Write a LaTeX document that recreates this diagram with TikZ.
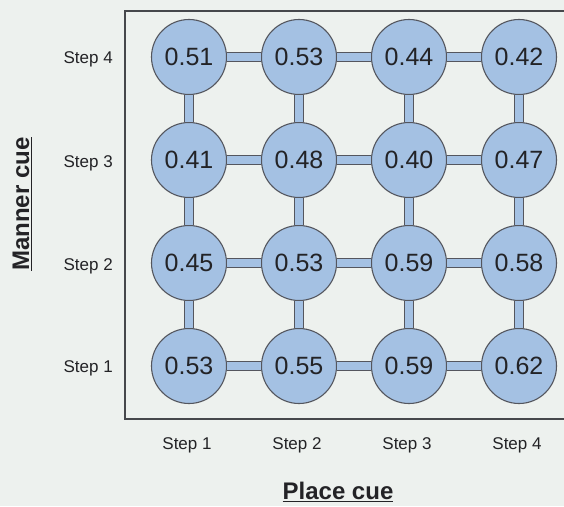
\documentclass[tikz,border=0pt]{standalone}
\usepackage{fontspec}
\setmainfont{Liberation Sans}
\definecolor{paper}{RGB}{237,241,238}
\definecolor{cellfill}{RGB}{164,193,227}
\definecolor{cellline}{RGB}{84,86,94}
\definecolor{frameline}{RGB}{70,72,76}
\definecolor{inktext}{RGB}{35,35,38}
\tikzset{
  cell/.style={circle, draw=cellline, line width=1.1pt, fill=cellfill,
    minimum size=75pt, inner sep=0pt, text=inktext,
    font=\fontsize{25}{25}\selectfont},
  link/.style={draw=cellline, line width=0.9pt, double=cellfill,
    double distance=7.5pt},
  steplabel/.style={text=inktext, font=\fontsize{17}{17}\selectfont, inner sep=0pt},
  axislabel/.style={text=inktext, font=\fontsize{24}{24}\selectfont\bfseries, inner sep=0pt}
}
\begin{document}
\begin{tikzpicture}[x=1pt, y=-1pt]
  \useasboundingbox (0,0) rectangle (564,506);
  \fill[paper] (0,0) rectangle (564,506);

  % plot frame (open on the right)
  \draw[frameline, line width=1.2pt] (564,11) -- (125,11) -- (125,419) -- (564,419);

  % grid of values: row r = manner step, column c = place step
  \foreach \c/\x in {1/189, 2/299, 3/409, 4/519} {
    \foreach \r/\y in {4/57, 3/160, 2/263, 1/366} {
      \coordinate (p\r\c) at (\x,\y);
    }
  }
  \node[cell] (n41) at (p41) {0.51};
  \node[cell] (n42) at (p42) {0.53};
  \node[cell] (n43) at (p43) {0.44};
  \node[cell] (n44) at (p44) {0.42};
  \node[cell] (n31) at (p31) {0.41};
  \node[cell] (n32) at (p32) {0.48};
  \node[cell] (n33) at (p33) {0.40};
  \node[cell] (n34) at (p34) {0.47};
  \node[cell] (n21) at (p21) {0.45};
  \node[cell] (n22) at (p22) {0.53};
  \node[cell] (n23) at (p23) {0.59};
  \node[cell] (n24) at (p24) {0.58};
  \node[cell] (n11) at (p11) {0.53};
  \node[cell] (n12) at (p12) {0.55};
  \node[cell] (n13) at (p13) {0.59};
  \node[cell] (n14) at (p14) {0.62};

  % horizontal links
  \foreach \r in {1,2,3,4} {
    \draw[link] (n\r1) -- (n\r2);
    \draw[link] (n\r2) -- (n\r3);
    \draw[link] (n\r3) -- (n\r4);
  }
  % vertical links
  \foreach \c in {1,2,3,4} {
    \draw[link] (n4\c) -- (n3\c);
    \draw[link] (n3\c) -- (n2\c);
    \draw[link] (n2\c) -- (n1\c);
  }

  % manner step labels
  \node[steplabel, anchor=east] (m4) at (113,59) {Step 4};
  \node[steplabel, anchor=east] (m3) at (113,163) {Step 3};
  \node[steplabel, anchor=east] (m2) at (113,266) {Step 2};
  \node[steplabel, anchor=east] (m1) at (113,368) {Step 1};

  % place step labels
  \node[steplabel] (s1) at (187,445) {Step 1};
  \node[steplabel] (s2) at (297,445) {Step 2};
  \node[steplabel] (s3) at (407,445) {Step 3};
  \node[steplabel] (s4) at (517,445) {Step 4};

  % axis titles
  \node[axislabel, rotate=90] (manner) at (22,204) {\underline{Manner cue}};
  \node[axislabel] (place) at (338,492) {\underline{Place cue}};
\end{tikzpicture}
\end{document}
